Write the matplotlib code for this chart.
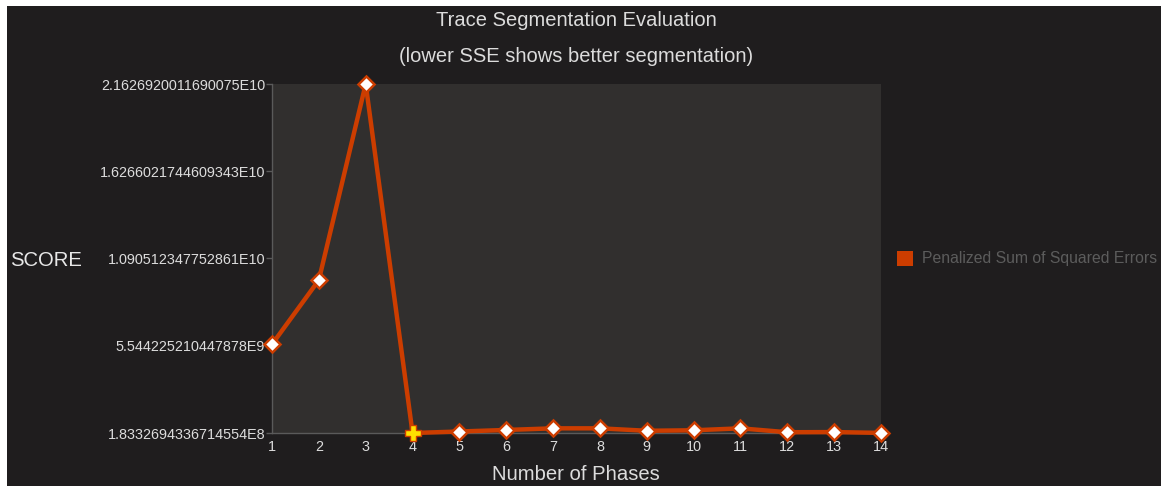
import matplotlib
matplotlib.use("Agg")
import matplotlib.pyplot as plt
from matplotlib.patches import Rectangle

plt.rcParams['font.family'] = ['Liberation Sans', 'DejaVu Sans']

# Data
phases = [1, 2, 3, 4, 5, 6, 7, 8, 9, 10, 11, 12, 13, 14]
sse = [5.63e9, 9.58e9, 2.1626920011690075e10, 1.8332694336714554e8,
       2.75e8, 3.7e8, 4.7e8, 4.7e8, 3.2e8, 3.5e8, 4.7e8, 2.3e8, 2.4e8, 1.9e8]
best_phase = 4
ytick_labels = ["1.8332694336714554E8", "5.544225210447878E9", "1.090512347752861E10",
                "1.6266021744609343E10", "2.1626920011690075E10"]

bg = '#1f1d1e'
plot_bg = '#312f2e'
line_color = '#cc3d00'
text_color = '#dcdcdc'

W, H = 1161, 486
fig = plt.figure(figsize=(W / 100, H / 100), dpi=100)
fig.patch.set_facecolor('white')
fig.patches.append(Rectangle((7 / W, 0), 1, (H - 6) / H, transform=fig.transFigure,
                             facecolor=bg, edgecolor='none', zorder=-10))

ax = fig.add_axes([272 / W, 53 / H, 609 / W, 349 / H])
ax.set_facecolor(plot_bg)

ymin, ymax = min(sse), max(sse)
ax.plot(phases, sse, color=line_color, linewidth=3.2, zorder=3, clip_on=False)
others = [(p, v) for p, v in zip(phases, sse) if p != best_phase]
ax.plot([p for p, _ in others], [v for _, v in others], linestyle='none', marker='D',
        markersize=8, markerfacecolor='white', markeredgecolor=line_color,
        markeredgewidth=1.8, zorder=4, clip_on=False)
ax.plot([best_phase], [sse[phases.index(best_phase)]], linestyle='none', marker='P',
        markersize=11, markerfacecolor='#ffe000', markeredgecolor=line_color,
        markeredgewidth=1.0, zorder=5, clip_on=False)

ax.set_xlim(phases[0], phases[-1])
ax.set_ylim(ymin, ymax)
ax.set_xticks(phases)
ax.set_xticklabels([str(p) for p in phases])
yticks = [ymin + k * (ymax - ymin) / 4 for k in range(5)]
ax.set_yticks(yticks)
ax.set_yticklabels(ytick_labels)

for side in ['top', 'right']:
    ax.spines[side].set_visible(False)
for side in ['left', 'bottom']:
    ax.spines[side].set_color('#5a5a5a')
    ax.spines[side].set_linewidth(1)
ax.tick_params(axis='y', colors=text_color, labelsize=10.4, length=4, width=1,
               color='#5a5a5a', pad=1)
ax.tick_params(axis='x', colors=text_color, labelsize=10.4, length=0, pad=5)

fig.text(576 / W, 1 - 20 / H, 'Trace Segmentation Evaluation', ha='center', va='center',
         color=text_color, fontsize=14.5)
fig.text(576 / W, 1 - 56 / H, '(lower SSE shows better segmentation)', ha='center', va='center',
         color=text_color, fontsize=14.5)
fig.text(10 / W, 1 - 260 / H, 'SCORE', ha='left', va='center', color='#e8e8e8', fontsize=14.6)
fig.text(576 / W, 1 - 474 / H, 'Number of Phases', ha='center', va='center',
         color=text_color, fontsize=14.6)

fig.patches.append(Rectangle((897 / W, 1 - 266 / H), 16 / W, 15 / H, transform=fig.transFigure,
                             facecolor=line_color, edgecolor='none'))
fig.text(922 / W, 1 - 258.5 / H, 'Penalized Sum of Squared Errors', ha='left', va='center',
         color='#5c5c5c', fontsize=11.3)

fig.savefig('out.png', dpi=100, facecolor=fig.get_facecolor())
